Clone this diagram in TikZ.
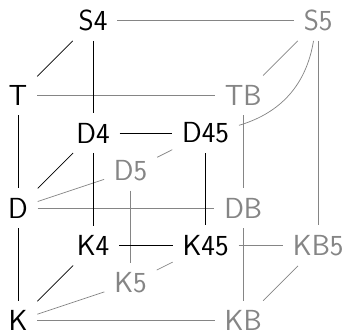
\documentclass[tikz,border=0pt]{standalone}
\usepackage{fontspec}
\begin{document}
\begin{tikzpicture}[x=1cm,y=1cm,
  lbl/.style={font=\fontsize{22}{26}\sffamily, inner sep=6pt, outer sep=1.5pt},
  blk/.style={lbl, text=black},
  gry/.style={lbl, text=black!48},
  bl/.style={draw=black, line width=0.55pt},
  gl/.style={draw=black!48, line width=0.55pt}]
\useasboundingbox (-0.48,-0.33) rectangle (8.74,8.545);
\node[blk] (K) at (0,0) {K};
\node[gry] (KB) at (6,0) {KB};
\node[gry] (K5) at (3,1) {K5};
\node[blk] (K4) at (2,2) {K4};
\node[blk] (K45) at (5,2) {K45};
\node[gry] (KB5) at (8,2) {KB5};
\node[blk] (D) at (0,3) {D};
\node[gry] (DB) at (6,3) {DB};
\node[gry] (D5) at (3,4) {D5};
\node[blk] (D4) at (2,5) {D4};
\node[blk] (D45) at (5,5) {D45};
\node[blk] (T) at (0,6) {T};
\node[gry] (TB) at (6,6) {TB};
\node[blk] (S4) at (2,8) {S4};
\node[gry] (S5) at (8,8) {S5};
% gray connectors
\path[gl] (S4) -- (S5);
\path[gl] (T) -- (TB);
\path[gl] (S5) -- (TB);
\path[gl] (S5) to[bend left=32] (D45);
\path[gl] (S5) -- (KB5);
\path[gl] (TB) -- (DB);
\path[gl] (D5) -- (D);
\path[gl] (D5) -- (D45);
\path[gl] (D5) -- (K5);
\path[gl] (D) -- (DB);
\path[gl] (DB) -- (KB);
\path[gl] (K45) -- (KB5);
\path[gl] (K5) -- (K);
\path[gl] (K5) -- (K45);
\path[gl] (KB5) -- (KB);
\path[gl] (K) -- (KB);
% black connectors
\path[bl] (S4) -- (T);
\path[bl] (S4) -- (D4);
\path[bl] (T) -- (D);
\path[bl] (D4) -- (D45);
\path[bl] (D4) -- (D);
\path[bl] (D4) -- (K4);
\path[bl] (D45) -- (K45);
\path[bl] (D) -- (K);
\path[bl] (K4) -- (K45);
\path[bl] (K4) -- (K);
\end{tikzpicture}
\end{document}
